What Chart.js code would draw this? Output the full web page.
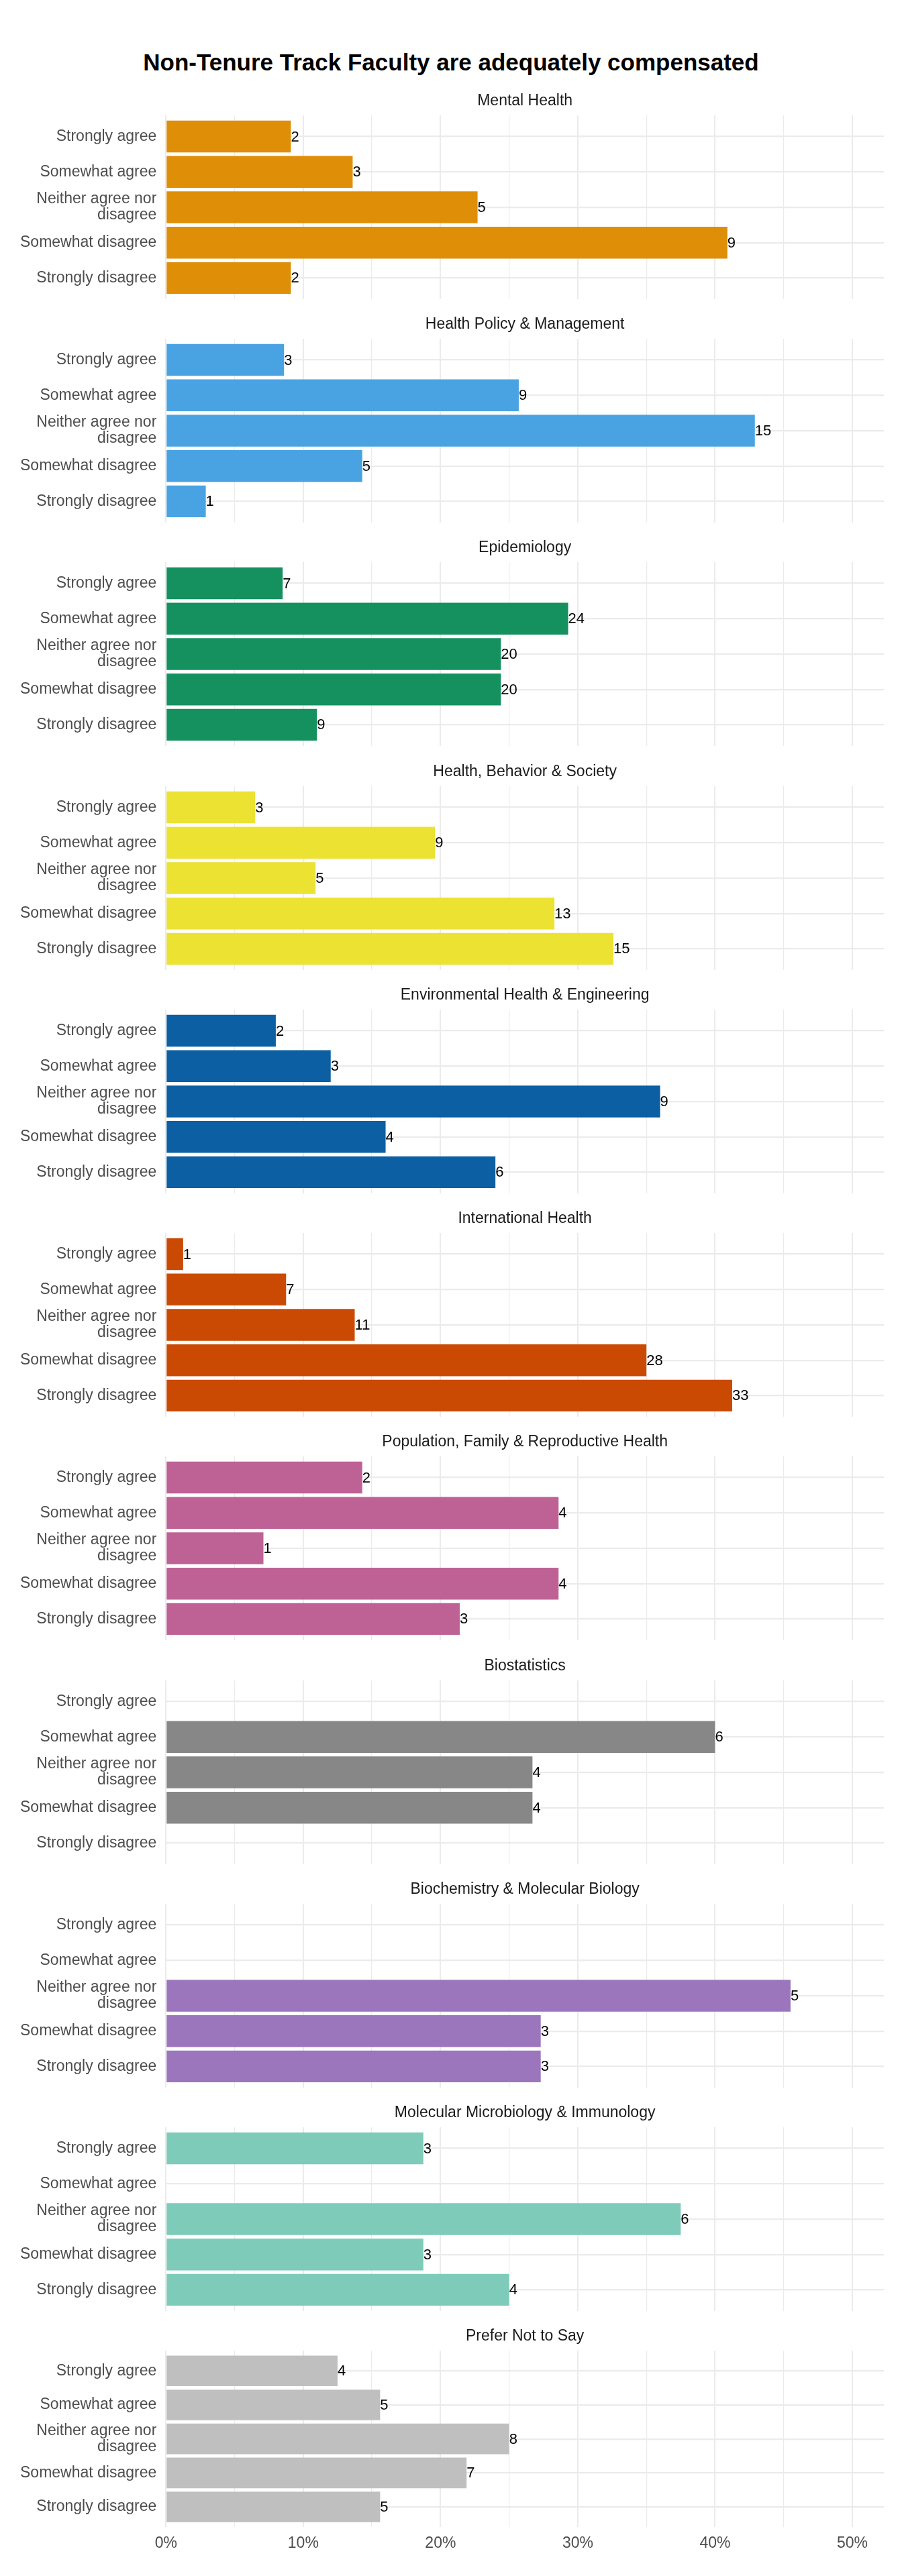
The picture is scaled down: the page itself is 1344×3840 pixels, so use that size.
<!DOCTYPE html>
<html>
<head>
<meta charset="utf-8">
<script src="https://cdn.jsdelivr.net/npm/chart.js@4/dist/chart.umd.min.js"></script>
<style>
  body { margin: 0; background: #fff; }
  #page { position: relative; width: 1344px; height: 3840px; background: #fff; overflow: hidden; }
  #title {
    position: absolute; left: 0; width: 1344px; top: 75.4px;
    text-align: center; font: bold 35px "Liberation Sans", Arial, sans-serif;
    line-height: 35px; color: #000; white-space: nowrap;
  }
  canvas { position: absolute; left: 0; }
</style>
</head>
<body>
<div id="page">
  <div id="title">Non-Tenure Track Faculty are adequately compensated</div>
</div>
<script>
// Réponses (de haut en bas dans chaque panneau)
const responses = ['Strongly agree', 'Somewhat agree', 'Neither agree nor disagree', 'Somewhat disagree', 'Strongly disagree'];

// Départements, un panneau chacun
const departments = [
    'Mental Health',
    'Health Policy & Management',
    'Epidemiology',
    'Health, Behavior & Society',
    'Environmental Health & Engineering',
    'International Health',
    'Population, Family & Reproductive Health',
    'Biostatistics',
    'Biochemistry & Molecular Biology',
    'Molecular Microbiology & Immunology',
    'Prefer Not to Say'
];

const deptColors = ['#DF8E08', '#49A3E2', '#15905F', '#EBE232', '#0B5FA2', '#CA4A04',
                    '#BE6295', '#878787', '#9B76BC', '#7ECBB9', '#BFBFBF'];

// Nombre de réponses (étiquettes au bout des barres)
const counts = [
    [2, 3, 5, 9, 2],
    [3, 9, 15, 5, 1],
    [7, 24, 20, 20, 9],
    [3, 9, 5, 13, 15],
    [2, 3, 9, 4, 6],
    [1, 7, 11, 28, 33],
    [2, 4, 1, 4, 3],
    [0, 6, 4, 4, 0],
    [0, 0, 5, 3, 3],
    [3, 0, 6, 3, 4],
    [4, 5, 8, 7, 5]
];

// Part des réponses en % (longueur des barres)
const shares = [
    [9.1, 13.6, 22.7, 40.9, 9.1],
    [8.6, 25.7, 42.9, 14.3, 2.9],
    [8.5, 29.3, 24.4, 24.4, 11.0],
    [6.5, 19.6, 10.9, 28.3, 32.6],
    [8.0, 12.0, 36.0, 16.0, 24.0],
    [1.25, 8.75, 13.75, 35.0, 41.25],
    [14.3, 28.6, 7.1, 28.6, 21.4],
    [0, 40.0, 26.7, 26.7, 0],
    [0, 0, 45.5, 27.3, 27.3],
    [18.75, 0, 37.5, 18.75, 25.0],
    [12.5, 15.6, 25.0, 21.9, 15.6]
];

// Graduations de l'axe des x (%), étiquettes tous les 10
const xTickValues = [0, 5, 10, 15, 20, 25, 30, 35, 40, 45, 50];
const xMax = 52.3;

const FONT = '"Liberation Sans", Arial, sans-serif';
Chart.defaults.font.family = FONT;

// coupe les longues étiquettes sur deux lignes (comme str_wrap)
function wrapLabel(text, width) {
    const words = text.split(' ');
    const lines = [];
    let line = '';
    words.forEach(w => {
        if (line && (line + ' ' + w).length > width) {
            lines.push(line);
            line = w;
        } else {
            line = line ? line + ' ' + w : w;
        }
    });
    lines.push(line);
    return lines.length > 1 ? lines : lines[0];
}

const page = document.getElementById('page');
const panelStep = 333.26;

departments.forEach((dept, i) => {
    const isLast = i === departments.length - 1;
    const canvas = document.createElement('canvas');
    canvas.width = 1344;
    canvas.height = isLast ? 352 : 315;
    canvas.style.top = (130.8 + i * panelStep) + 'px';
    page.appendChild(canvas);

    // étiquettes de comptage au bout des barres
    const countLabels = {
        id: 'countLabels',
        afterDatasetsDraw(chart) {
            const ctx = chart.ctx;
            const meta = chart.getDatasetMeta(0);
            ctx.save();
            ctx.font = '22px ' + FONT;
            ctx.fillStyle = '#000';
            ctx.textAlign = 'left';
            ctx.textBaseline = 'middle';
            meta.data.forEach((bar, j) => {
                const n = counts[i][j];
                if (!n) return;
                ctx.fillText(String(n), bar.x, bar.y + 1);
            });
            ctx.restore();
        }
    };

    new Chart(canvas, {
        type: 'bar',
        data: {
            datasets: [{
                data: shares[i].map((v, j) => ({ x: v, y: j })),
                backgroundColor: deptColors[i],
                borderWidth: 0,
                barPercentage: 0.9,
                categoryPercentage: 1.0
            }]
        },
        options: {
            indexAxis: 'y',
            responsive: false,
            animation: false,
            devicePixelRatio: 1,
            layout: { autoPadding: false, padding: { left: 0, right: 27, top: 0, bottom: 0 } },
            plugins: {
                legend: { display: false },
                tooltip: { enabled: false },
                title: {
                    display: true,
                    text: dept,
                    fullSize: false,
                    color: '#1A1A1A',
                    font: { size: 23, weight: 'normal', lineHeight: 1.2 },
                    padding: { top: 6, bottom: 7.3 }
                }
            },
            scales: {
                x: {
                    type: 'linear',
                    min: 0,
                    max: xMax,
                    offset: false,
                    border: { display: false },
                    grid: {
                        color: '#EBEBEB',
                        drawTicks: false,
                        offset: false,
                        lineWidth: c => (c.tick && c.tick.value % 10 === 0) ? 2 : 1.2
                    },
                    afterBuildTicks: s => { s.ticks = xTickValues.map(v => ({ value: v })); },
                    afterFit: s => { s.paddingLeft = 0; s.paddingRight = 0; },
                    ticks: {
                        display: isLast,
                        padding: 10,
                        color: '#4D4D4D',
                        font: { size: 23 },
                        maxRotation: 0,
                        autoSkip: false,
                        callback: v => (v % 10 === 0 ? v + '%' : '')
                    }
                },
                y: {
                    type: 'linear',
                    min: -0.6,
                    max: 4.6,
                    reverse: true,
                    offset: false,
                    border: { display: false },
                    grid: { color: '#EBEBEB', lineWidth: 2.2, drawTicks: false, offset: false },
                    afterBuildTicks: s => { s.ticks = responses.map((r, j) => ({ value: j })); },
                    afterFit: s => { s.width = 247.3; s.paddingTop = 0; s.paddingBottom = 0; },
                    ticks: {
                        padding: 14,
                        color: '#4D4D4D',
                        font: { size: 23, lineHeight: 1.06 },
                        autoSkip: false,
                        callback: v => wrapLabel(responses[v], 20)
                    }
                }
            }
        },
        plugins: [countLabels]
    });
});
</script>
</body>
</html>
